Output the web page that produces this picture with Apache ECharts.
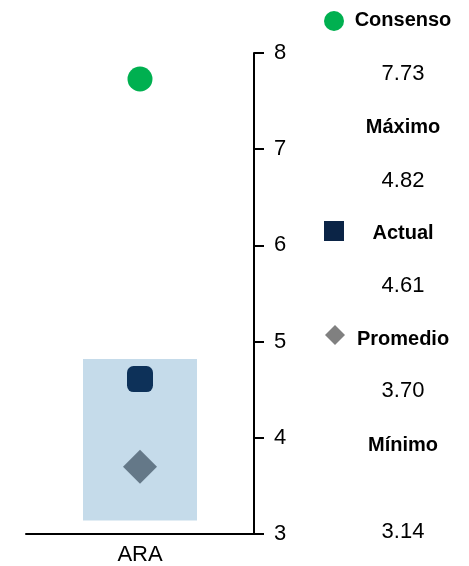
<!DOCTYPE html>
<html>
<head>
<meta charset="utf-8">
<script src="https://cdn.jsdelivr.net/npm/echarts@6/dist/echarts.min.js"></script>
<style>
  html, body { margin: 0; padding: 0; background: #fff; }
  #chart { width: 469px; height: 566px; }
</style>
</head>
<body>
<div id="chart"></div>
<script>
// datos
var categorias = ['ARA'];
var consenso = [7.73];
var maximo = [4.82];
var actual = [4.61];
var promedio = [3.70];
var minimo = [3.14];
var ticksY = [3, 4, 5, 6, 7, 8];

var myChart = echarts.init(document.getElementById('chart'));

var fuente = '"Liberation Sans", Arial, sans-serif';

// rango (min -> max) como barra apilada
var rango = maximo.map(function (v, i) { return +(v - minimo[i]).toFixed(2); });

// textos de la derecha
var filas = [
    { t: 'Consenso', y: 20, bold: true },
    { t: consenso[0].toFixed(2), y: 74 },
    { t: 'Máximo', y: 127, bold: true },
    { t: maximo[0].toFixed(2), y: 181 },
    { t: 'Actual', y: 233, bold: true },
    { t: actual[0].toFixed(2), y: 286 },
    { t: 'Promedio', y: 339, bold: true },
    { t: promedio[0].toFixed(2), y: 391 },
    { t: 'Mínimo', y: 445, bold: true },
    { t: minimo[0].toFixed(2), y: 532 }
];

var graficos = filas.map(function (f) {
    return {
        type: 'text',
        x: 403,
        y: f.y,
        style: {
            text: f.t,
            x: 0, y: 0,
            align: 'center',
            verticalAlign: 'middle',
            font: (f.bold ? 'bold 20px ' : '22px ') + fuente,
            fill: '#000'
        }
    };
});

// simbolos de la leyenda
graficos.push(
    { type: 'circle', shape: { cx: 334, cy: 21, r: 10 }, style: { fill: '#00b050' } },
    { type: 'rect', shape: { x: 324, y: 221, width: 20, height: 20 }, style: { fill: '#0b2446' } },
    { type: 'polygon', shape: { points: [[335, 325], [345, 335], [335, 345], [325, 335]] }, style: { fill: '#808080' } }
);

var option = {
    animation: false,
    grid: { left: 26, right: 215, top: 53, bottom: 29 },
    xAxis: {
        type: 'category',
        data: categorias,
        axisLine: { lineStyle: { color: '#000', width: 2 } },
        axisTick: { show: false },
        axisLabel: { color: '#000', fontSize: 22, fontFamily: fuente, margin: 10 }
    },
    yAxis: {
        type: 'value',
        position: 'right',
        min: ticksY[0],
        max: ticksY[ticksY.length - 1],
        interval: 1,
        splitLine: { show: false },
        axisLine: { show: true, lineStyle: { color: '#000', width: 2 } },
        axisTick: { show: true, length: 10, lineStyle: { color: '#000', width: 2 } },
        axisLabel: { color: '#000', fontSize: 22, fontFamily: fuente, margin: 20 }
    },
    series: [
        {
            name: 'base',
            type: 'bar',
            stack: 'rango',
            data: minimo,
            barWidth: '50%',
            itemStyle: { color: 'transparent' },
            silent: true
        },
        {
            name: 'Rango',
            type: 'bar',
            stack: 'rango',
            data: rango,
            barWidth: '50%',
            itemStyle: { color: '#c5dbea' }
        },
        {
            name: 'Consenso',
            type: 'scatter',
            data: consenso,
            symbol: 'circle',
            symbolSize: 25,
            itemStyle: { color: '#00b050', opacity: 1 },
            z: 5
        },
        {
            name: 'Actual',
            type: 'scatter',
            data: actual,
            symbol: 'roundRect',
            symbolSize: 26,
            itemStyle: { color: '#0d3159', opacity: 1 },
            z: 5
        },
        {
            name: 'Promedio',
            type: 'scatter',
            data: promedio,
            symbol: 'diamond',
            symbolSize: 34,
            itemStyle: { color: '#647888', opacity: 1 },
            z: 5
        }
    ],
    graphic: graficos
};

myChart.setOption(option);
</script>
</body>
</html>
